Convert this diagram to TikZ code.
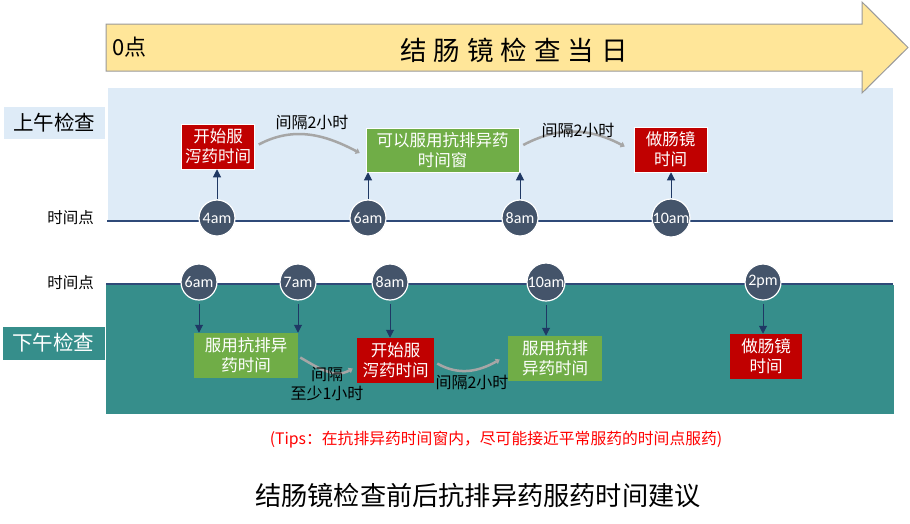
\documentclass[tikz,border=0pt]{standalone}
\usepackage{fontspec}
\setmainfont{Noto Sans CJK SC}
\newfontfamily\latf{Carlito}
\usetikzlibrary{arrows.meta}
\definecolor{cred}{HTML}{C00000}
\definecolor{cgreen}{HTML}{70AD47}
\definecolor{cteal}{HTML}{368E8B}
\definecolor{clblue}{HTML}{DEEBF7}
\definecolor{ccirc}{HTML}{44546A}
\definecolor{cline}{HTML}{2F4A78}
\definecolor{carrow}{HTML}{1F3864}
\definecolor{cyel}{HTML}{FFE699}
\definecolor{carc}{HTML}{A6A6A6}
\newcommand{\fs}[1]{\fontsize{#1}{#1}\selectfont}
\tikzset{
  tbox/.style={draw=white, line width=0.5pt, text=white, align=center, inner sep=0pt,
    font=\fs{16.5}\linespread{1.2}\selectfont},
  redbox/.style={tbox, fill=cred},
  greenbox/.style={tbox, fill=cgreen},
  lowbox/.style={draw=none},
  tcirc/.style={circle, fill=ccirc, draw=white, line width=1.2pt, minimum size=36pt, inner sep=0pt,
    text=white, font=\latf\fs{16}},
  navyarr/.style={draw=carrow, line width=1pt, -{Triangle[length=8pt,width=8pt]}},
  gaparc/.style={draw=carc, line width=2.5pt, -{Triangle[length=4pt,width=6pt]}},
  gaplabel/.style={font=\fs{16}, align=center, inner sep=0pt},
  sidelabel/.style={font=\fs{15.5}, anchor=east, inner sep=0pt}
}
\begin{document}
\begin{tikzpicture}[x=1pt,y=-1pt]
\useasboundingbox (0,0) rectangle (910,523);
% upper panel
\fill[clblue] (108,88) rectangle (893,221);
% big arrow
\filldraw[fill=cyel, draw=gray!80, line width=1pt]
  (106,24) -- (862,24) -- (862,2) -- (908,47.5) -- (862,93) -- (862,71) -- (106,71) -- cycle;
\node[anchor=west, font=\fs{22}, inner sep=0pt] (zero) at (112,47) {0点};
\node[font=\fs{26.5}, inner sep=0pt] (title) at (514,50)
  {结\hspace{7pt}肠\hspace{7pt}镜\hspace{7pt}检\hspace{7pt}查\hspace{7pt}当\hspace{7pt}日};
% labels
\node[fill=clblue, draw=white, minimum width=102pt, minimum height=33pt, font=\fs{20.5}, inner sep=0pt] (am) at (54,122.5) {上午检查};
\node[sidelabel] (tp1) at (94,218) {时间点};
% upper timeline
\draw[cline, line width=2pt] (107,221) -- (893,221);
\node[tcirc] (c4) at (217,218) {4am};
\node[tcirc] (c6) at (368,218) {6am};
\node[tcirc] (c8) at (520,218) {8am};
\node[tcirc] (c10) at (671,218) {10am};
\node[redbox, minimum width=73pt, minimum height=45pt] (u1) at (218,146.5) {开始服\\泻药时间};
\node[greenbox, minimum width=153pt, minimum height=44pt] (u2) at (442.5,150) {可以服用抗排异药\\时间窗};
\node[redbox, minimum width=73pt, minimum height=45pt] (u3) at (670.5,149.5) {做肠镜\\时间};
\draw[navyarr] (c4.north) -- (c4.north |- u1.south);
\draw[navyarr] (c6.north) -- (c6.north |- u2.south);
\draw[navyarr] (c8.north) -- (c8.north |- u2.south);
\draw[navyarr] (c10.north) -- (c10.north |- u3.south);
\draw[gaparc] ([xshift=4pt,yshift=2pt]u1.east) to[out=28,in=152] ([xshift=-6pt,yshift=-3pt]u2.west);
\draw[gaparc] ([xshift=4pt,yshift=5pt]u2.east) to[out=28,in=152] ([xshift=-9pt,yshift=3pt]u3.west);
\node[gaplabel] (g1) at (312,122) {间隔2小时};
\node[gaplabel] (g2) at (578,130) {间隔2小时};
% lower panel
\fill[cteal] (106,285) rectangle (894,414);
\draw[cline, line width=2pt] (106,284) -- (893,284);
\node[sidelabel] (tp2) at (94,283) {时间点};
\node[fill=cteal, draw=white, line width=0.5pt, minimum width=103pt, minimum height=34pt, text=white, font=\fs{20.5}, inner sep=0pt] (pm) at (53.5,343) {下午检查};
\node[tcirc] (d6) at (199,282) {6am};
\node[tcirc] (d7) at (298,282) {7am};
\node[tcirc] (d8) at (390,282) {8am};
\node[tcirc] (d10) at (546,282) {10am};
\node[tcirc] (d2) at (763,282) {2pm};
\node[greenbox, lowbox, minimum width=104pt, minimum height=45pt] (l1) at (246,355.5) {服用抗排异\\药时间};
\node[redbox, lowbox, minimum width=77pt, minimum height=45pt] (l2) at (395.5,360.5) {开始服\\泻药时间};
\node[greenbox, lowbox, minimum width=94pt, minimum height=45pt] (l3) at (555,358.5) {服用抗排\\异药时间};
\node[redbox, lowbox, minimum width=72pt, minimum height=45pt] (l4) at (766,356.5) {做肠镜\\时间};
\draw[navyarr, shorten <=3pt] (d6.south) -- (d6.south |- l1.north);
\draw[navyarr, shorten <=3pt] (d7.south) -- (d7.south |- l1.north);
\draw[navyarr, shorten <=3pt] (d8.south) -- (d8.south |- l2.north);
\draw[navyarr, shorten <=3pt] (d10.south) -- (d10.south |- l3.north);
\draw[navyarr, shorten <=3pt] (d2.south) -- (d2.south |- l4.north);
\draw[gaparc] ([xshift=2pt,yshift=-2pt]l1.east) to[out=-30,in=-150] ([xshift=-4pt,yshift=-8pt]l2.west);
\draw[gaparc] ([xshift=3pt,yshift=-3pt]l2.east) to[out=-30,in=-150] ([xshift=-8pt,yshift=-1pt]l3.west);
\node[gaplabel, font=\fs{16}\linespread{1.15}\selectfont] (g3) at (327,384) {间隔\\至少1小时};
\node[gaplabel] (g4) at (472,382) {间隔2小时};
% footer
\node[font=\fs{15.8}, text=red, inner sep=0pt] (tips) at (496,440) {(Tips：在抗排异药时间窗内，尽可能接近平常服药的时间点服药)};
\node[font=\fs{26.2}, inner sep=0pt] (foot) at (478,496) {结肠镜检查前后抗排异药服药时间建议};
\end{tikzpicture}
\end{document}
